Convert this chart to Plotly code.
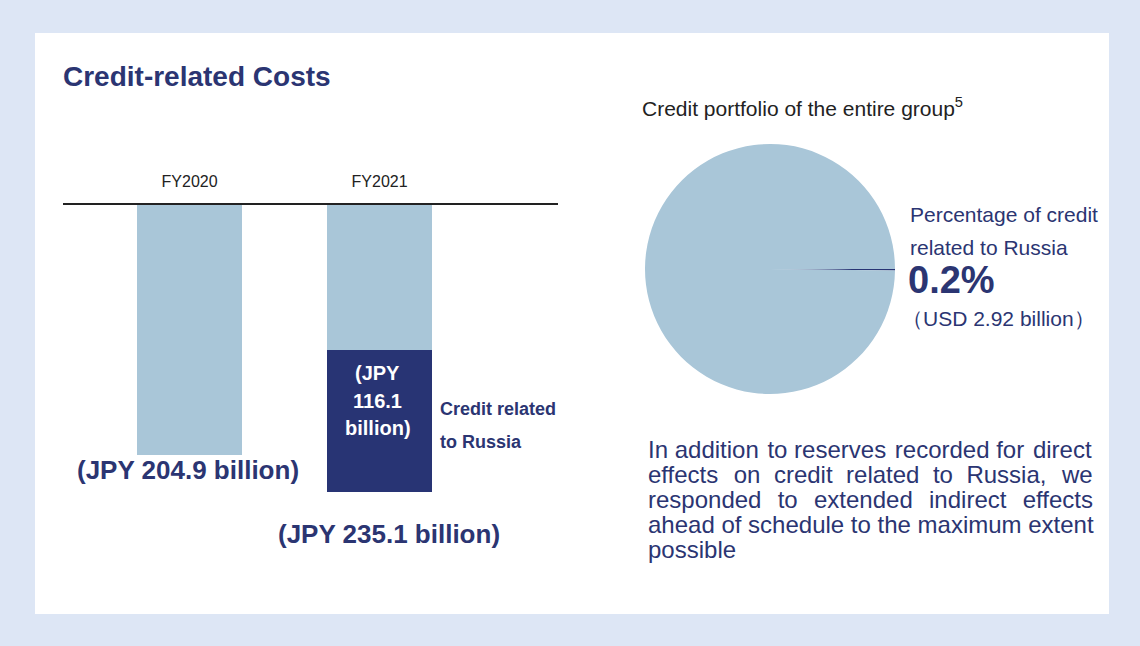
import plotly.graph_objects as go

# chart data
YEARS = ["FY2020", "FY2021"]
TOTAL_COSTS = [204.9, 235.1]          # JPY billion
RUSSIA_COSTS = [0.0, 116.1]           # JPY billion, credit related to Russia
PIE_LABELS = ["Credit related to Russia", "Other credit"]
PIE_SHARES = [0.2, 99.8]              # % of group credit portfolio
RUSSIA_USD = 2.92                     # USD billion

# the page body adds an 8px margin; positions below are page pixels
PAGE_W, PAGE_H, BODY = 1140, 646, 8
W, H = PAGE_W - BODY, PAGE_H - BODY
LIGHT = "#a9c6d8"
NAVY = "#283474"
TEXT_NAVY = "#2b3572"
FRAME = "#dde6f5"
FONT = "Arial, 'Liberation Sans', sans-serif"


def px(x):
    """page pixel x -> paper fraction"""
    return (x - BODY) / W


def py(y):
    return 1 - (y - BODY) / H


def label(x, y, text, size, color=TEXT_NAVY, bold=False, xanchor="left"):
    if bold:
        text = f"<b>{text}</b>"
    return dict(x=px(x), y=py(y), xref="paper", yref="paper", text=text, showarrow=False,
                xanchor=xanchor, yanchor="middle", align=xanchor,
                font=dict(family=FONT, size=size, color=color))


other_costs = [t - r for t, r in zip(TOTAL_COSTS, RUSSIA_COSTS)]
russia_bar = [r if r else None for r in RUSSIA_COSTS]

fig = go.Figure()
fig.add_trace(go.Bar(x=YEARS, y=other_costs, width=0.553, marker=dict(color=LIGHT, line_width=0),
                     hoverinfo="skip", showlegend=False))
fig.add_trace(go.Bar(x=YEARS, y=russia_bar, width=0.553, marker=dict(color=NAVY, line_width=0),
                     hoverinfo="skip", showlegend=False))
fig.add_trace(go.Pie(labels=PIE_LABELS, values=PIE_SHARES, sort=False, direction="clockwise",
                     rotation=90, textinfo="none", hoverinfo="label+percent",
                     marker=dict(colors=[NAVY, LIGHT], line=dict(width=0)),
                     domain=dict(x=[px(645), px(895)], y=[py(394), py(144)]),
                     showlegend=False))

# bar scale: ~1.222 px per JPY billion, zero line at y=205
y_top, y_bot = 205, 520
fig.update_layout(
    width=W, height=H, margin=dict(l=0, r=0, t=0, b=0),
    paper_bgcolor=FRAME, plot_bgcolor="rgba(0,0,0,0)",
    barmode="stack", bargap=0,
    xaxis=dict(type="category", categoryorder="array", categoryarray=YEARS,
               domain=[px(63), px(558)], range=[-0.666, 1.939], side="top",
               showline=True, linecolor="#222222", linewidth=2, showgrid=False,
               zeroline=False, ticks="", ticklabelstandoff=10,
               tickfont=dict(family=FONT, size=16, color="#222222"), fixedrange=True),
    yaxis=dict(domain=[py(y_bot), py(y_top)], range=[(y_bot - y_top) / 1.222, 0],
               visible=False, fixedrange=True),
)

fig.add_shape(type="rect", xref="paper", yref="paper", x0=px(35), x1=px(1109), y0=py(614), y1=py(33),
              fillcolor="white", line_width=0, layer="below")

# justified paragraph: widen the gaps between words with thin / hair spaces
thin = "&#8201;"
hair = "&#8202;"
para = [
    "In addition " + hair + "to reserves " + hair + "recorded for " + hair + "direct",
    "effects on credit related to Russia, we".replace(" ", " " + thin + hair).replace(
        "Russia, ", "Russia, " + hair).replace("effects ", "effects " + hair),
    "responded to extended indirect effects".replace(" ", " " + thin + thin),
    "ahead of schedule to the maximum extent",
    "possible",
]

annotations = [
    label(61, 77, "Credit-related Costs", 28, bold=True),
    label(188, 470, f"(JPY {TOTAL_COSTS[0]:.1f} billion)", 26, bold=True, xanchor="center"),
    label(389, 534, f"(JPY {TOTAL_COSTS[1]:.1f} billion)", 26, bold=True, xanchor="center"),
    label(377, 373, "(JPY", 20, color="white", bold=True, xanchor="center"),
    label(377, 401, f"{RUSSIA_COSTS[1]:.1f}", 20, color="white", bold=True, xanchor="center"),
    label(378, 428, "billion)", 20, color="white", bold=True, xanchor="center"),
    label(438, 409, "Credit related", 18, bold=True),
    label(438, 442, "to Russia", 18, bold=True),
    label(640, 107, "Credit portfolio of the entire group<sup>5</sup>", 21, color="#222222"),
    label(908, 215, "Percentage of credit", 21),
    label(908, 248, "related to Russia", 21),
    label(906, 280, f"{PIE_SHARES[0]:.1f}%", 38, bold=True),
    label(900, 318, f"（USD {RUSSIA_USD:.2f} billion）", 21),
]
for i, line in enumerate(para):
    annotations.append(label(646, 449 + 25 * i, line, 24))
fig.update_layout(annotations=annotations)

# page body margin in the frame colour so the border reaches the window edge
fig.write_html("out.html", post_script="document.body.style.background = '%s';" % FRAME)
